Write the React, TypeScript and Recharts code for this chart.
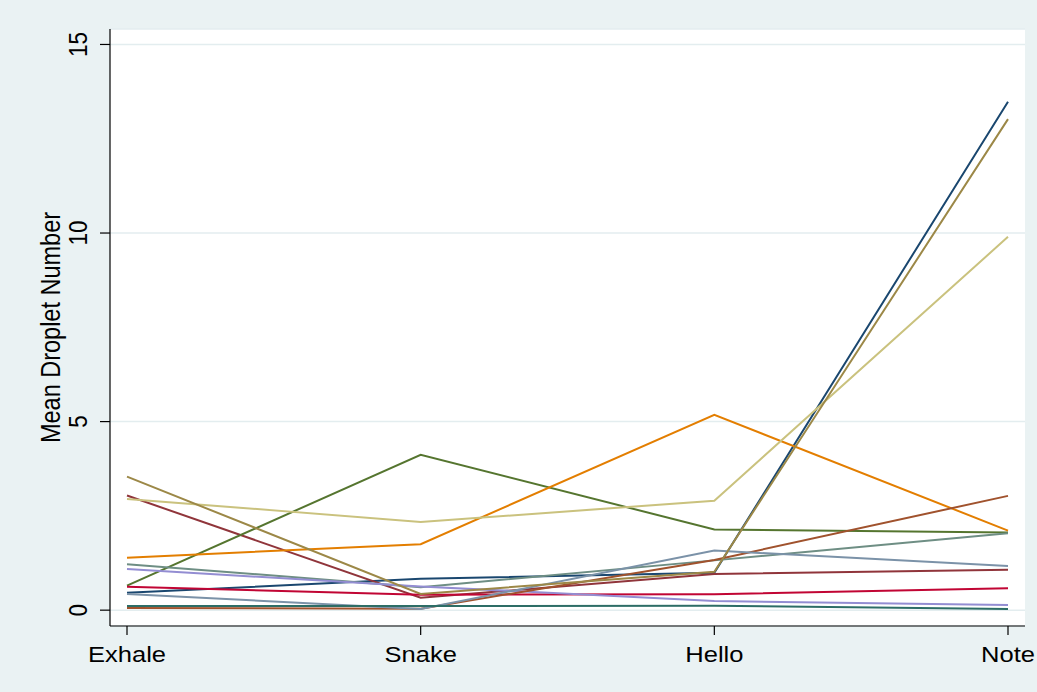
import React from "react";
import { LineChart, Line, XAxis, YAxis, CartesianGrid } from "recharts";

const categories = ["Exhale", "Snake", "Hello", "Note"];
const yTicks = [0, 5, 10, 15];
const yTitle = "Mean Droplet Number";

const s1 = [0.46, 0.83, 0.99, 13.48];
const s2 = [3.04, 0.33, 0.96, 1.07];
const s3 = [0.65, 4.12, 2.14, 2.06];
const s4 = [1.39, 1.75, 5.18, 2.11];
const s5 = [1.22, 0.61, 1.32, 2.04];
const s6 = [0.62, 0.41, 0.42, 0.58];
const s7 = [1.09, 0.63, 0.24, 0.14];
const s8 = [2.95, 2.34, 2.9, 9.9];
const s9 = [0.06, 0.04, 1.33, 3.03];
const s10 = [0.43, 0.03, 1.58, 1.17];
const s11 = [0.11, 0.11, 0.12, 0.03];
const s12 = [3.54, 0.43, 1.02, 13.02];

const seriesNames = ["s1", "s2", "s3", "s4", "s5", "s6", "s7", "s8", "s9", "s10", "s11", "s12"];
const seriesValues = [s1, s2, s3, s4, s5, s6, s7, s8, s9, s10, s11, s12];
const seriesColors = [
  "#1a476f", "#90353b", "#55752f", "#e37e00", "#6e8e84", "#c10534",
  "#938dd2", "#cac27e", "#a0522d", "#7b92a8", "#2d6d66", "#9c8847",
];

const data = categories.map((c, i) => {
  const row: Record<string, any> = { cat: c };
  seriesNames.forEach((n, k) => {
    row[n] = seriesValues[k][i];
  });
  return row;
});

const FONT = "'Liberation Sans', Arial, Helvetica, sans-serif";
const STRETCH = 1.16;

const XTick = (props: any) => {
  const { x, y, payload } = props;
  return (
    <g transform={`translate(${x},${y + 25})`}>
      <text transform={`scale(${STRETCH},1)`} textAnchor="middle" fontSize={22} fontFamily={FONT} fill="#000">
        {payload.value}
      </text>
    </g>
  );
};

const YTick = (props: any) => {
  const { x, y, payload } = props;
  return (
    <g transform={`translate(${x - 20},${y})`}>
      <text
        transform={`scale(${STRETCH},1) rotate(-90)`}
        textAnchor="middle"
        dominantBaseline="central"
        fontSize={22.5}
        fontFamily={FONT}
        fill="#000"
      >
        {payload.value}
      </text>
    </g>
  );
};

const YTitle = (props: any) => {
  const { viewBox } = props;
  const cx = viewBox.x + 50;
  const cy = viewBox.y + viewBox.height / 2;
  return (
    <g transform={`translate(${cx},${cy})`}>
      <text
        transform={`scale(${STRETCH},1) rotate(-90)`}
        textAnchor="middle"
        dominantBaseline="central"
        fontSize={23.5}
        fontFamily={FONT}
        fill="#000"
      >
        {yTitle}
      </text>
    </g>
  );
};

export default function App() {
  return (
    <div style={{ position: "absolute", left: 0, top: 0, width: 1037, height: 692, background: "#EAF2F3" }}>
      <LineChart width={1037} height={692} data={data} margin={{ top: 29, right: 12, bottom: 0, left: 0 }}>
        <CartesianGrid vertical={false} fill="#ffffff" stroke="#E3EDEF" strokeWidth={1.5} />
        <XAxis
          dataKey="cat"
          height={66}
          padding={{ left: 17, right: 17 }}
          tickSize={9}
          tickLine={{ stroke: "#000", strokeWidth: 1.2 }}
          axisLine={{ stroke: "#000", strokeWidth: 1.2 }}
          tick={<XTick />}
          interval={0}
        />
        <YAxis
          width={110}
          type="number"
          domain={[-0.42, 15.41]}
          ticks={yTicks}
          allowDataOverflow
          tickSize={10}
          tickLine={{ stroke: "#000", strokeWidth: 1.2 }}
          axisLine={{ stroke: "#000", strokeWidth: 1.2 }}
          tick={<YTick />}
          label={<YTitle />}
        />
        {seriesNames.map((n, k) => (
          <Line
            key={n}
            dataKey={n}
            type="linear"
            stroke={seriesColors[k]}
            strokeWidth={2}
            dot={false}
            activeDot={false}
            isAnimationActive={false}
          />
        ))}
      </LineChart>
    </div>
  );
}
